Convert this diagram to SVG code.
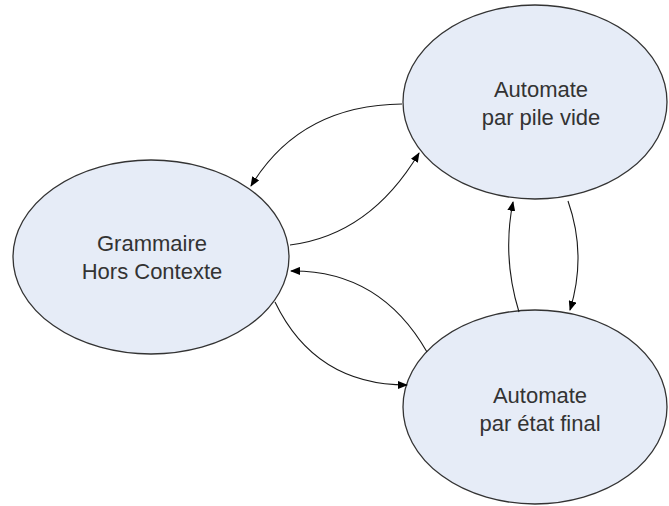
<svg xmlns="http://www.w3.org/2000/svg" width="669" height="506" viewBox="0 0 669 506">
  <style>
    .node { fill: #e6ecf7; stroke: #333333; stroke-width: 1.3; }
    .label { font-family: "Liberation Sans", Arial, sans-serif; font-size: 22px; fill: #333333; text-anchor: middle; }
    .edge { fill: none; stroke: #1a1a1a; stroke-width: 1.1; marker-end: url(#arrow); }
  </style>
  <defs>
    <marker id="arrow" markerUnits="userSpaceOnUse" markerWidth="10" markerHeight="8" refX="9" refY="4" orient="auto">
      <path d="M0,0 L10,4 L0,8 Z" fill="#000000"/>
    </marker>
  </defs>
  <rect width="669" height="506" fill="#ffffff"/>
  <g id="grammaire">
    <ellipse class="node" cx="151" cy="257" rx="138" ry="97"/>
    <text class="label" x="152" y="251">Grammaire</text>
    <text class="label" x="152" y="279">Hors Contexte</text>
  </g>
  <g id="pile-vide">
    <ellipse class="node" cx="535" cy="102" rx="132" ry="97"/>
    <text class="label" x="541" y="97">Automate</text>
    <text class="label" x="541" y="125">par pile vide</text>
  </g>
  <g id="etat-final">
    <ellipse class="node" cx="535" cy="407" rx="132" ry="97"/>
    <text class="label" x="540" y="403">Automate</text>
    <text class="label" x="540" y="431">par état final</text>
  </g>
  <g id="connectors">
    <path class="edge" d="M402,104 Q300,105 251,186"/>
    <path class="edge" d="M290,245 Q370,235 419,153"/>
    <path class="edge" d="M427,352 Q380,270 291,271"/>
    <path class="edge" d="M275,302 Q315,385 407,385"/>
    <path class="edge" d="M519,312 Q502,257 513,202"/>
    <path class="edge" d="M568,201 Q587,255 570,310"/>
  </g>
</svg>
